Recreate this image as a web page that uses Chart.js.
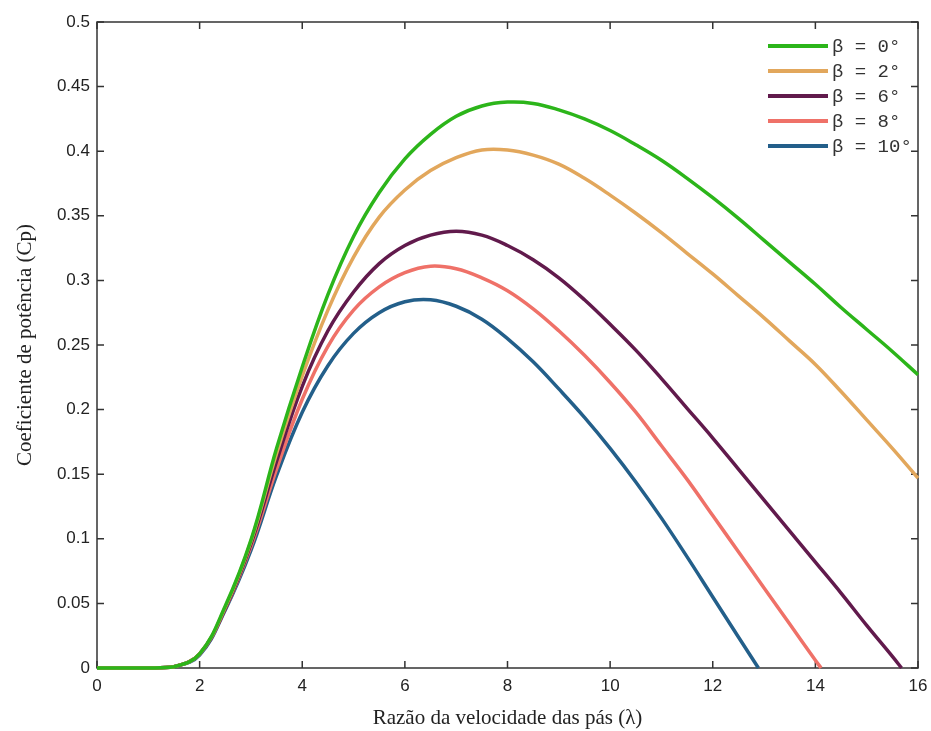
<!DOCTYPE html>
<html>
<head>
<meta charset="utf-8">
<script src="https://cdn.jsdelivr.net/npm/chart.js@4.4.1/dist/chart.umd.min.js"></script>
<style>
    html, body { margin: 0; padding: 0; background: #fff; }
    #wrap { width: 931px; height: 731px; }
</style>
</head>
<body>
<div id="wrap"><canvas id="cpCanvas"></canvas></div>
<script>
// tip speed ratio grid (lambda)
const lambda = [0, 0.5, 1, 1.5, 2, 2.5, 3, 3.5, 4, 4.5, 5, 5.5, 6, 6.5, 7, 7.5, 8,
    8.5, 9, 9.5, 10, 10.5, 11, 11.5, 12, 12.5, 13, 13.5, 14, 14.5, 15, 15.5, 16];

const cpBeta0 = [0, 0, 0, 0.001, 0.011, 0.048, 0.099, 0.170, 0.233, 0.289, 0.334, 0.368, 0.394,
    0.413, 0.427, 0.435, 0.438, 0.437, 0.432, 0.425, 0.416, 0.405, 0.393, 0.379, 0.364, 0.348,
    0.331, 0.314, 0.297, 0.279, 0.262, 0.245, 0.227];
const cpBeta2 = [0, 0, 0, 0.001, 0.011, 0.047, 0.098, 0.166, 0.226, 0.277, 0.318, 0.349, 0.370,
    0.385, 0.395, 0.401, 0.401, 0.397, 0.390, 0.379, 0.366, 0.352, 0.337, 0.321, 0.305, 0.288,
    0.271, 0.253, 0.235, 0.214, 0.192, 0.170, 0.147];
const cpBeta6 = [0, 0, 0, 0.001, 0.011, 0.046, 0.096, 0.160, 0.218, 0.261, 0.291, 0.313, 0.327,
    0.335, 0.338, 0.335, 0.327, 0.316, 0.302, 0.285, 0.266, 0.246, 0.224, 0.201, 0.178, 0.154,
    0.130, 0.106, 0.082, 0.058, 0.033, 0.009, null];
const cpBeta8 = [0, 0, 0, 0.001, 0.011, 0.046, 0.094, 0.154, 0.208, 0.249, 0.277, 0.295, 0.306,
    0.311, 0.309, 0.302, 0.292, 0.278, 0.261, 0.242, 0.221, 0.198, 0.172, 0.146, 0.118, 0.090,
    0.062, 0.034, 0.006, null, null, null, null];
const cpBeta10 = [0, 0, 0, 0.001, 0.010, 0.045, 0.091, 0.149, 0.198, 0.234, 0.259, 0.275, 0.2835,
    0.285, 0.280, 0.270, 0.255, 0.237, 0.216, 0.194, 0.170, 0.144, 0.116, 0.086, 0.055, 0.024,
    null, null, null, null, null, null, null];

// where each curve reaches Cp = 0 (null = runs to the edge)
const zeroAt = [null, null, 15.68, 14.11, 12.89];

const seriesLabels = ["β = 0°", "β = 2°", "β = 6°", "β = 8°", "β = 10°"];
const seriesColors = ["#2cb51a", "#e2a75c", "#611a4c", "#ef7168", "#235f8a"];
const seriesValues = [cpBeta0, cpBeta2, cpBeta6, cpBeta8, cpBeta10];

const xTicks = [0, 2, 4, 6, 8, 10, 12, 14, 16];

function buildPoints(values, end) {
    const pts = [];
    values.forEach((v, i) => {
        if (v !== null) pts.push({ x: lambda[i], y: v });
    });
    if (end !== null) pts.push({ x: end, y: 0 });
    return pts;
}

const datasets = seriesValues.map((vals, i) => ({
    label: seriesLabels[i],
    data: buildPoints(vals, zeroAt[i]),
    borderColor: seriesColors[i],
    backgroundColor: seriesColors[i],
    borderWidth: 3.5,
    pointRadius: 0,
    tension: 0.4,
    clip: 5
}));

// box around plot area + inward ticks on all four sides
const frameAndTicks = {
    id: "frameAndTicks",
    beforeDatasetsDraw(chart) {
        const { ctx, chartArea } = chart;
        const xs = chart.scales.x;
        const ys = chart.scales.y;
        ctx.save();
        ctx.strokeStyle = "#333";
        ctx.lineWidth = 1.5;
        ctx.strokeRect(chartArea.left, chartArea.top, chartArea.right - chartArea.left, chartArea.bottom - chartArea.top);
        ctx.beginPath();
        xs.ticks.forEach(t => {
            const px = xs.getPixelForValue(t.value);
            ctx.moveTo(px, chartArea.bottom);
            ctx.lineTo(px, chartArea.bottom - 7);
            ctx.moveTo(px, chartArea.top);
            ctx.lineTo(px, chartArea.top + 7);
        });
        ys.ticks.forEach(t => {
            const py = ys.getPixelForValue(t.value);
            ctx.moveTo(chartArea.left, py);
            ctx.lineTo(chartArea.left + 7, py);
            ctx.moveTo(chartArea.right, py);
            ctx.lineTo(chartArea.right - 7, py);
        });
        ctx.stroke();
        ctx.restore();
    }
};

// legend in the top right corner, inside the plot
const insideLegend = {
    id: "insideLegend",
    afterDraw(chart) {
        const { ctx, chartArea } = chart;
        ctx.save();
        ctx.font = "19px 'Liberation Mono', 'DejaVu Sans Mono', monospace";
        ctx.textBaseline = "middle";
        ctx.fillStyle = "#333";
        chart.data.datasets.forEach((ds, i) => {
            const y = chartArea.top + 24 + i * 25;
            const x0 = chartArea.right - 150;
            ctx.strokeStyle = ds.borderColor;
            ctx.lineWidth = 4;
            ctx.beginPath();
            ctx.moveTo(x0, y);
            ctx.lineTo(x0 + 60, y);
            ctx.stroke();
            ctx.fillText(ds.label, x0 + 64, y + 1);
        });
        ctx.restore();
    }
};

const chart = new Chart(document.getElementById("cpCanvas"), {
    type: "line",
    data: { datasets: datasets },
    options: {
        responsive: true,
        maintainAspectRatio: false,
        animation: false,
        layout: {
            padding: { left: 0, right: 13, top: 22, bottom: 0 }
        },
        plugins: {
            legend: { display: false },
            tooltip: { enabled: false }
        },
        scales: {
            x: {
                type: "linear",
                min: 0,
                max: 16,
                afterBuildTicks: (scale) => {
                    scale.ticks = xTicks.map(v => ({ value: v }));
                },
                afterFit: (scale) => {
                    scale.height = 63;
                    scale.paddingLeft = 0;
                    scale.paddingRight = 0;
                },
                grid: { display: false, drawTicks: false },
                border: { display: false },
                ticks: {
                    color: "#222",
                    padding: 8,
                    maxRotation: 0,
                    font: { family: "'Liberation Sans', Arial, sans-serif", size: 17 }
                },
                title: {
                    display: true,
                    text: "Razão da velocidade das pás (λ)",
                    color: "#222",
                    padding: { top: 0, bottom: 0 },
                    font: { family: "'Liberation Serif', 'Times New Roman', serif", size: 21 }
                }
            },
            y: {
                min: 0,
                max: 0.5,
                afterFit: (scale) => {
                    scale.width = 97;
                    scale.paddingTop = 0;
                    scale.paddingBottom = 0;
                },
                grid: { display: false, drawTicks: false },
                border: { display: false },
                ticks: {
                    stepSize: 0.05,
                    color: "#222",
                    padding: 7,
                    font: { family: "'Liberation Sans', Arial, sans-serif", size: 17 },
                    callback: (v) => String(Number(v.toFixed(2)))
                },
                title: {
                    display: true,
                    text: "Coeficiente de potência (Cp)",
                    color: "#222",
                    padding: { top: 13, bottom: 0 },
                    font: { family: "'Liberation Serif', 'Times New Roman', serif", size: 21 }
                }
            }
        }
    },
    plugins: [frameAndTicks, insideLegend]
});
</script>
</body>
</html>
